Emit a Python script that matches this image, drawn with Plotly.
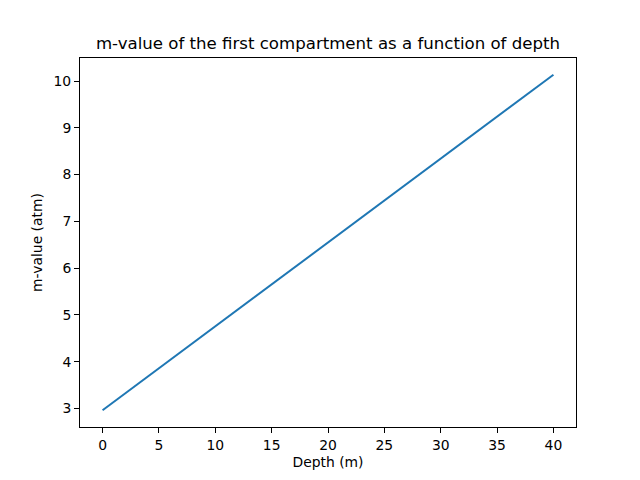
import plotly.graph_objects as go

# profondeur (m) et m-value (atm)
depth = [0, 5, 10, 15, 20, 25, 30, 35, 40]
m_value = [2.962, 3.858, 4.755, 5.651, 6.548, 7.444, 8.341, 9.237, 10.134]

x_ticks = [0, 5, 10, 15, 20, 25, 30, 35, 40]
y_ticks = [3, 4, 5, 6, 7, 8, 9, 10]

fig = go.Figure()
fig.add_trace(go.Scatter(x=depth, y=m_value, mode='lines',
                         line=dict(color='#1f77b4', width=2)))

axis_style = dict(showline=True, linecolor='black', linewidth=1, mirror=True,
                  ticks='outside', ticklen=5, tickcolor='black',
                  showgrid=False, zeroline=False,
                  tickfont=dict(size=13.9, color='black'))

# la page ajoute 8px de marge, on compense
fig.update_layout(
    width=640, height=480,
    margin=dict(l=72, r=72, t=50, b=61),
    paper_bgcolor='white', plot_bgcolor='white',
    font=dict(family='DejaVu Sans', color='black'),
    showlegend=False,
    title=dict(text='m-value of the first compartment as a function of depth',
               x=0.5, xanchor='center', y=0.915, yanchor='bottom',
               font=dict(size=16.6, color='black')),
    xaxis=dict(range=[-2, 42], tickvals=x_ticks,
               title=dict(text='Depth (m)', font=dict(size=13.9), standoff=5),
               **axis_style),
    yaxis=dict(range=[2.603, 10.493], tickvals=y_ticks,
               title=dict(text='m-value (atm)', font=dict(size=13.9), standoff=7),
               **axis_style),
)

fig.write_html("out.html")
